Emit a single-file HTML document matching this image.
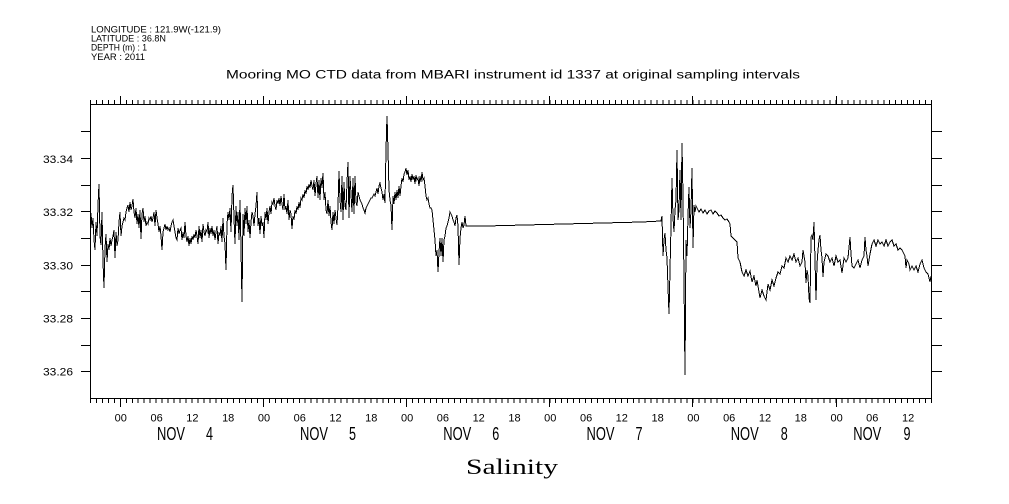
<!DOCTYPE html>
<html>
<head>
<meta charset="utf-8">
<style>
  html,body{margin:0;padding:0;background:#fff;}
  svg{display:block;}
  text{font-family:"Liberation Sans",sans-serif;fill:#000;}
</style>
</head>
<body>
<svg width="1009" height="504" viewBox="0 0 1009 504" xmlns="http://www.w3.org/2000/svg">
<rect x="0" y="0" width="1009" height="504" fill="#fff"/>

<!-- header -->
<text x="91" y="32.3" font-size="9.5" textLength="130" lengthAdjust="spacingAndGlyphs">LONGITUDE : 121.9W(-121.9)</text>
<text x="91" y="41.3" font-size="9.5" textLength="75" lengthAdjust="spacingAndGlyphs">LATITUDE : 36.8N</text>
<text x="91" y="50.6" font-size="9.5" textLength="56" lengthAdjust="spacingAndGlyphs">DEPTH (m) : 1</text>
<text x="91" y="60.2" font-size="9.5" textLength="54" lengthAdjust="spacingAndGlyphs">YEAR : 2011</text>

<text x="226" y="78.5" font-size="11.5" textLength="574" lengthAdjust="spacingAndGlyphs">Mooring MO CTD data from MBARI instrument id 1337 at original sampling intervals</text>

<!-- axes frame -->
<rect x="90.5" y="104.5" width="841" height="294" fill="none" stroke="#000" stroke-width="1" shape-rendering="crispEdges"/>

<!-- y ticks -->
<path shape-rendering="crispEdges" stroke="#000" stroke-width="1" fill="none" d="
M81 131.5H90 M81 158.5H90 M81 185.5H90 M81 211.5H90 M81 238.5H90 M81 265.5H90 M81 291.5H90 M81 318.5H90 M81 345.5H90 M81 371.5H90
M932 131.5H942 M932 158.5H942 M932 185.5H942 M932 211.5H942 M932 238.5H942 M932 265.5H942 M932 291.5H942 M932 318.5H942 M932 345.5H942 M932 371.5H942"/>

<!-- x minor ticks -->
<line x1="90" y1="401" x2="932" y2="401" stroke="#000" stroke-width="4" stroke-dasharray="1 4.9645" shape-rendering="crispEdges"/>
<line x1="90" y1="102" x2="932" y2="102" stroke="#000" stroke-width="4" stroke-dasharray="1 4.9645" shape-rendering="crispEdges"/>
<!-- x major ticks -->
<path shape-rendering="crispEdges" stroke="#000" stroke-width="1" fill="none" d="
M120.5 399V407 M263.5 399V407 M406.5 399V407 M549.5 399V407 M692.5 399V407 M836.5 399V407
M120.5 96V104 M263.5 96V104 M406.5 96V104 M549.5 96V104 M692.5 96V104 M836.5 96V104"/>

<!-- y labels -->
<g font-size="11" text-anchor="end">
<text x="73" y="163" textLength="30" lengthAdjust="spacingAndGlyphs">33.34</text>
<text x="73" y="216" textLength="30" lengthAdjust="spacingAndGlyphs">33.32</text>
<text x="73" y="269.5" textLength="30" lengthAdjust="spacingAndGlyphs">33.30</text>
<text x="73" y="322.5" textLength="30" lengthAdjust="spacingAndGlyphs">33.28</text>
<text x="73" y="375.5" textLength="30" lengthAdjust="spacingAndGlyphs">33.26</text>
</g>

<!-- x hour labels -->
<g font-size="11" text-anchor="middle">
<text x="120.8" y="421.5">00</text><text x="156.6" y="421.5">06</text><text x="192.4" y="421.5">12</text><text x="228.2" y="421.5">18</text>
<text x="264" y="421.5">00</text><text x="299.8" y="421.5">06</text><text x="335.5" y="421.5">12</text><text x="371.3" y="421.5">18</text>
<text x="407.1" y="421.5">00</text><text x="442.9" y="421.5">06</text><text x="478.7" y="421.5">12</text><text x="514.5" y="421.5">18</text>
<text x="550.3" y="421.5">00</text><text x="586.1" y="421.5">06</text><text x="621.8" y="421.5">12</text><text x="657.6" y="421.5">18</text>
<text x="693.4" y="421.5">00</text><text x="729.2" y="421.5">06</text><text x="765" y="421.5">12</text><text x="800.8" y="421.5">18</text>
<text x="836.6" y="421.5">00</text><text x="872.3" y="421.5">06</text><text x="908.1" y="421.5">12</text>
</g>

<!-- day labels -->
<g font-size="18">
<text x="157" y="440" textLength="28" lengthAdjust="spacingAndGlyphs">NOV</text><text x="206" y="440" textLength="7" lengthAdjust="spacingAndGlyphs">4</text>
<text x="300" y="440" textLength="28" lengthAdjust="spacingAndGlyphs">NOV</text><text x="349" y="440" textLength="7" lengthAdjust="spacingAndGlyphs">5</text>
<text x="443.3" y="440" textLength="28" lengthAdjust="spacingAndGlyphs">NOV</text><text x="492.3" y="440" textLength="7" lengthAdjust="spacingAndGlyphs">6</text>
<text x="586.5" y="440" textLength="28" lengthAdjust="spacingAndGlyphs">NOV</text><text x="635.5" y="440" textLength="7" lengthAdjust="spacingAndGlyphs">7</text>
<text x="730.7" y="440" textLength="28" lengthAdjust="spacingAndGlyphs">NOV</text><text x="780.7" y="440" textLength="7" lengthAdjust="spacingAndGlyphs">8</text>
<text x="853.3" y="440" textLength="28" lengthAdjust="spacingAndGlyphs">NOV</text><text x="903.5" y="440" textLength="7" lengthAdjust="spacingAndGlyphs">9</text>
</g>

<text x="512" y="474" font-size="22" text-anchor="middle" textLength="92" lengthAdjust="spacingAndGlyphs" style="font-family:'Liberation Serif',serif">Salinity</text>

<!-- data -->
<polyline fill="none" stroke="#000" stroke-width="1" shape-rendering="crispEdges" points="
91,213 92,228 93,218 94,240 95,250 96,222 97,236 98,205 99,184 100,236 101,245 102,212 103,262 104,288 105,248 106,234 107,262 108,244 109,250 110,238
111,246 112,240 113,236 114,230 115,258 116,232 117,246 118,240 119,222 120,212 121,236 122,226 123,222 124,218 125,220 126,212 127,208 128,205 129,212 130,202
131,210 132,206 133,199 134,212 135,218 136,208 137,224 138,214 139,228 140,210 141,239 142,214 143,208 144,222 145,216 146,226 147,222 148,224 149,218 150,220
151,216 152,222 153,218 154,212 155,226 156,210 157,218 158,224 159,232 160,226 161,236 162,250 163,232 164,228 165,224 166,230 167,226 168,230 169,228 170,232
171,226 172,222 173,220 174,226 175,232 176,238 177,240 178,228 179,234 180,230 181,228 182,240 183,232 184,238 185,222 186,236 187,242 188,236 189,246 190,238
191,244 192,236 193,240 194,234 195,238 196,230 197,236 198,244 199,226 200,238 201,230 202,242 203,224 204,232 205,236 206,230 207,232 208,222 209,238 210,228
211,234 212,226 213,236 214,230 215,240 216,232 217,226 218,244 219,232 220,236 221,226 222,242 223,218 224,236 225,244 226,270 227,224 228,212 229,220 230,208
231,232 232,196 233,185 234,218 235,244 236,206 237,226 238,212 239,240 240,200 241,248 242,302 243,214 244,236 245,208 246,224 247,206 248,232 249,220 250,238
251,222 252,212 253,216 254,226 255,214 256,206 257,192 258,226 259,218 260,234 261,216 262,226 263,222 264,238 265,212 266,220 267,208 268,224 269,212 270,206
271,214 272,202 273,204 274,198 275,206 276,210 277,200 278,204 279,198 280,206 281,196 282,204 283,210 284,194 285,210 286,206 287,214 288,200 289,220 290,210
291,214 292,229 293,216 294,220 295,210 296,214 297,206 298,210 299,202 300,208 301,198 302,200 303,194 304,198 305,190 306,194 307,186 308,190 309,184 310,188
311,180 312,186 313,190 314,180 315,196 316,184 317,176 318,198 319,180 320,200 321,178 322,188 323,173 324,200 325,192 326,210 327,214 328,200 329,216 330,206
331,222 332,230 333,212 334,224 335,210 336,218 337,225 338,206 339,171 340,200 341,212 342,176 343,220 344,182 345,206 346,210 347,182 348,162 349,218 350,176
351,194 352,212 353,178 354,214 355,176 356,202 357,206 358,192 359,196 360,200 361,202 362,204 363,208 364,210 365,213 366,208 367,206 368,204 369,202 370,200
371,198 372,198 373,196 374,194 375,196 376,192 377,188 378,194 379,186 380,183 381,188 382,192 383,200 384,194 385,203 386,150 387,116 388,150 389,190 390,200
391,205 392,230 393,196 394,204 395,192 396,200 397,190 398,198 399,186 400,196 401,186 402,178 403,182 404,174 405,172 406,168 407,175 408,170 409,180 410,176
411,182 412,174 413,180 414,176 415,184 416,175 417,180 418,178 419,186 420,176 421,182 422,172 423,180 424,178 425,186 426,196 427,200 428,198 429,204 430,208
431,208 432,210 433,220 434,230 435,240 436,256 437,250 438,272 439,252 440,238 441,256 442,238 443,262 444,240 445,236 446,228 447,226 448,222 449,218 450,212
451,214 452,216 453,220 454,222 455,226 456,218 457,215 458,226 459,265 460,238 461,228 462,222 463,228 464,225 465,216 466,226 467,226
486,226 525,225 564,224 603,223 642,222 661,221
662,216 663,256 664,240 665,233 666,250 667,258 668,287 669,314 670,270 671,226 672,178 673,218 674,232 675,210 676,200 677,150 678,220 679,210 680,170
681,220 682,143 683,196 684,280 685,375 686,240 687,256 688,216 689,187 690,228 691,210 692,168 693,248 694,205 695,212 696,206 697,208
699,212 701,209 703,213 705,210 707,214 709,211 711,210 713,214 715,211 717,213 719,216 721,215 723,218 725,220 727,219 729,222 730,224 731,236 733,238
735,240 737,242 738,258 740,262 742,272 744,276 746,270 748,276 750,271 752,282 754,276 756,286 757,280 759,292 760,298 762,290 764,296 766,300 767,292 768,284
770,290 772,280 774,286 776,278 778,272 780,274 782,266 784,268 786,258 788,262 790,256 792,260 794,254 796,262 798,258 800,266 802,262 803,250 805,262 806,283
807,270 808,276 809,298 810,303 811,237 812,235 813,240 814,222 815,260 816,300 817,264 818,250 819,240 820,235 821,250 822,258 823,277 824,262 826,254 828,256
830,262 832,258 834,266 836,256 838,262 840,260 842,273 844,258 846,262 848,258 850,237 851,254 852,266 854,268 856,264 858,260 860,268 862,260 864,256 865,237
866,250 867,256 868,266 870,254 872,244 874,240 876,246 878,240 880,244 882,242 884,246 886,240 888,246 890,242 892,240 894,246 896,244 898,250 900,248 902,250
904,254 905,256 906,268 907,260 909,264 910,270 912,266 914,270 916,266 918,272 920,264 922,260 924,268 926,272 928,274 930,282 931,276"/>
</svg>
</body>
</html>
